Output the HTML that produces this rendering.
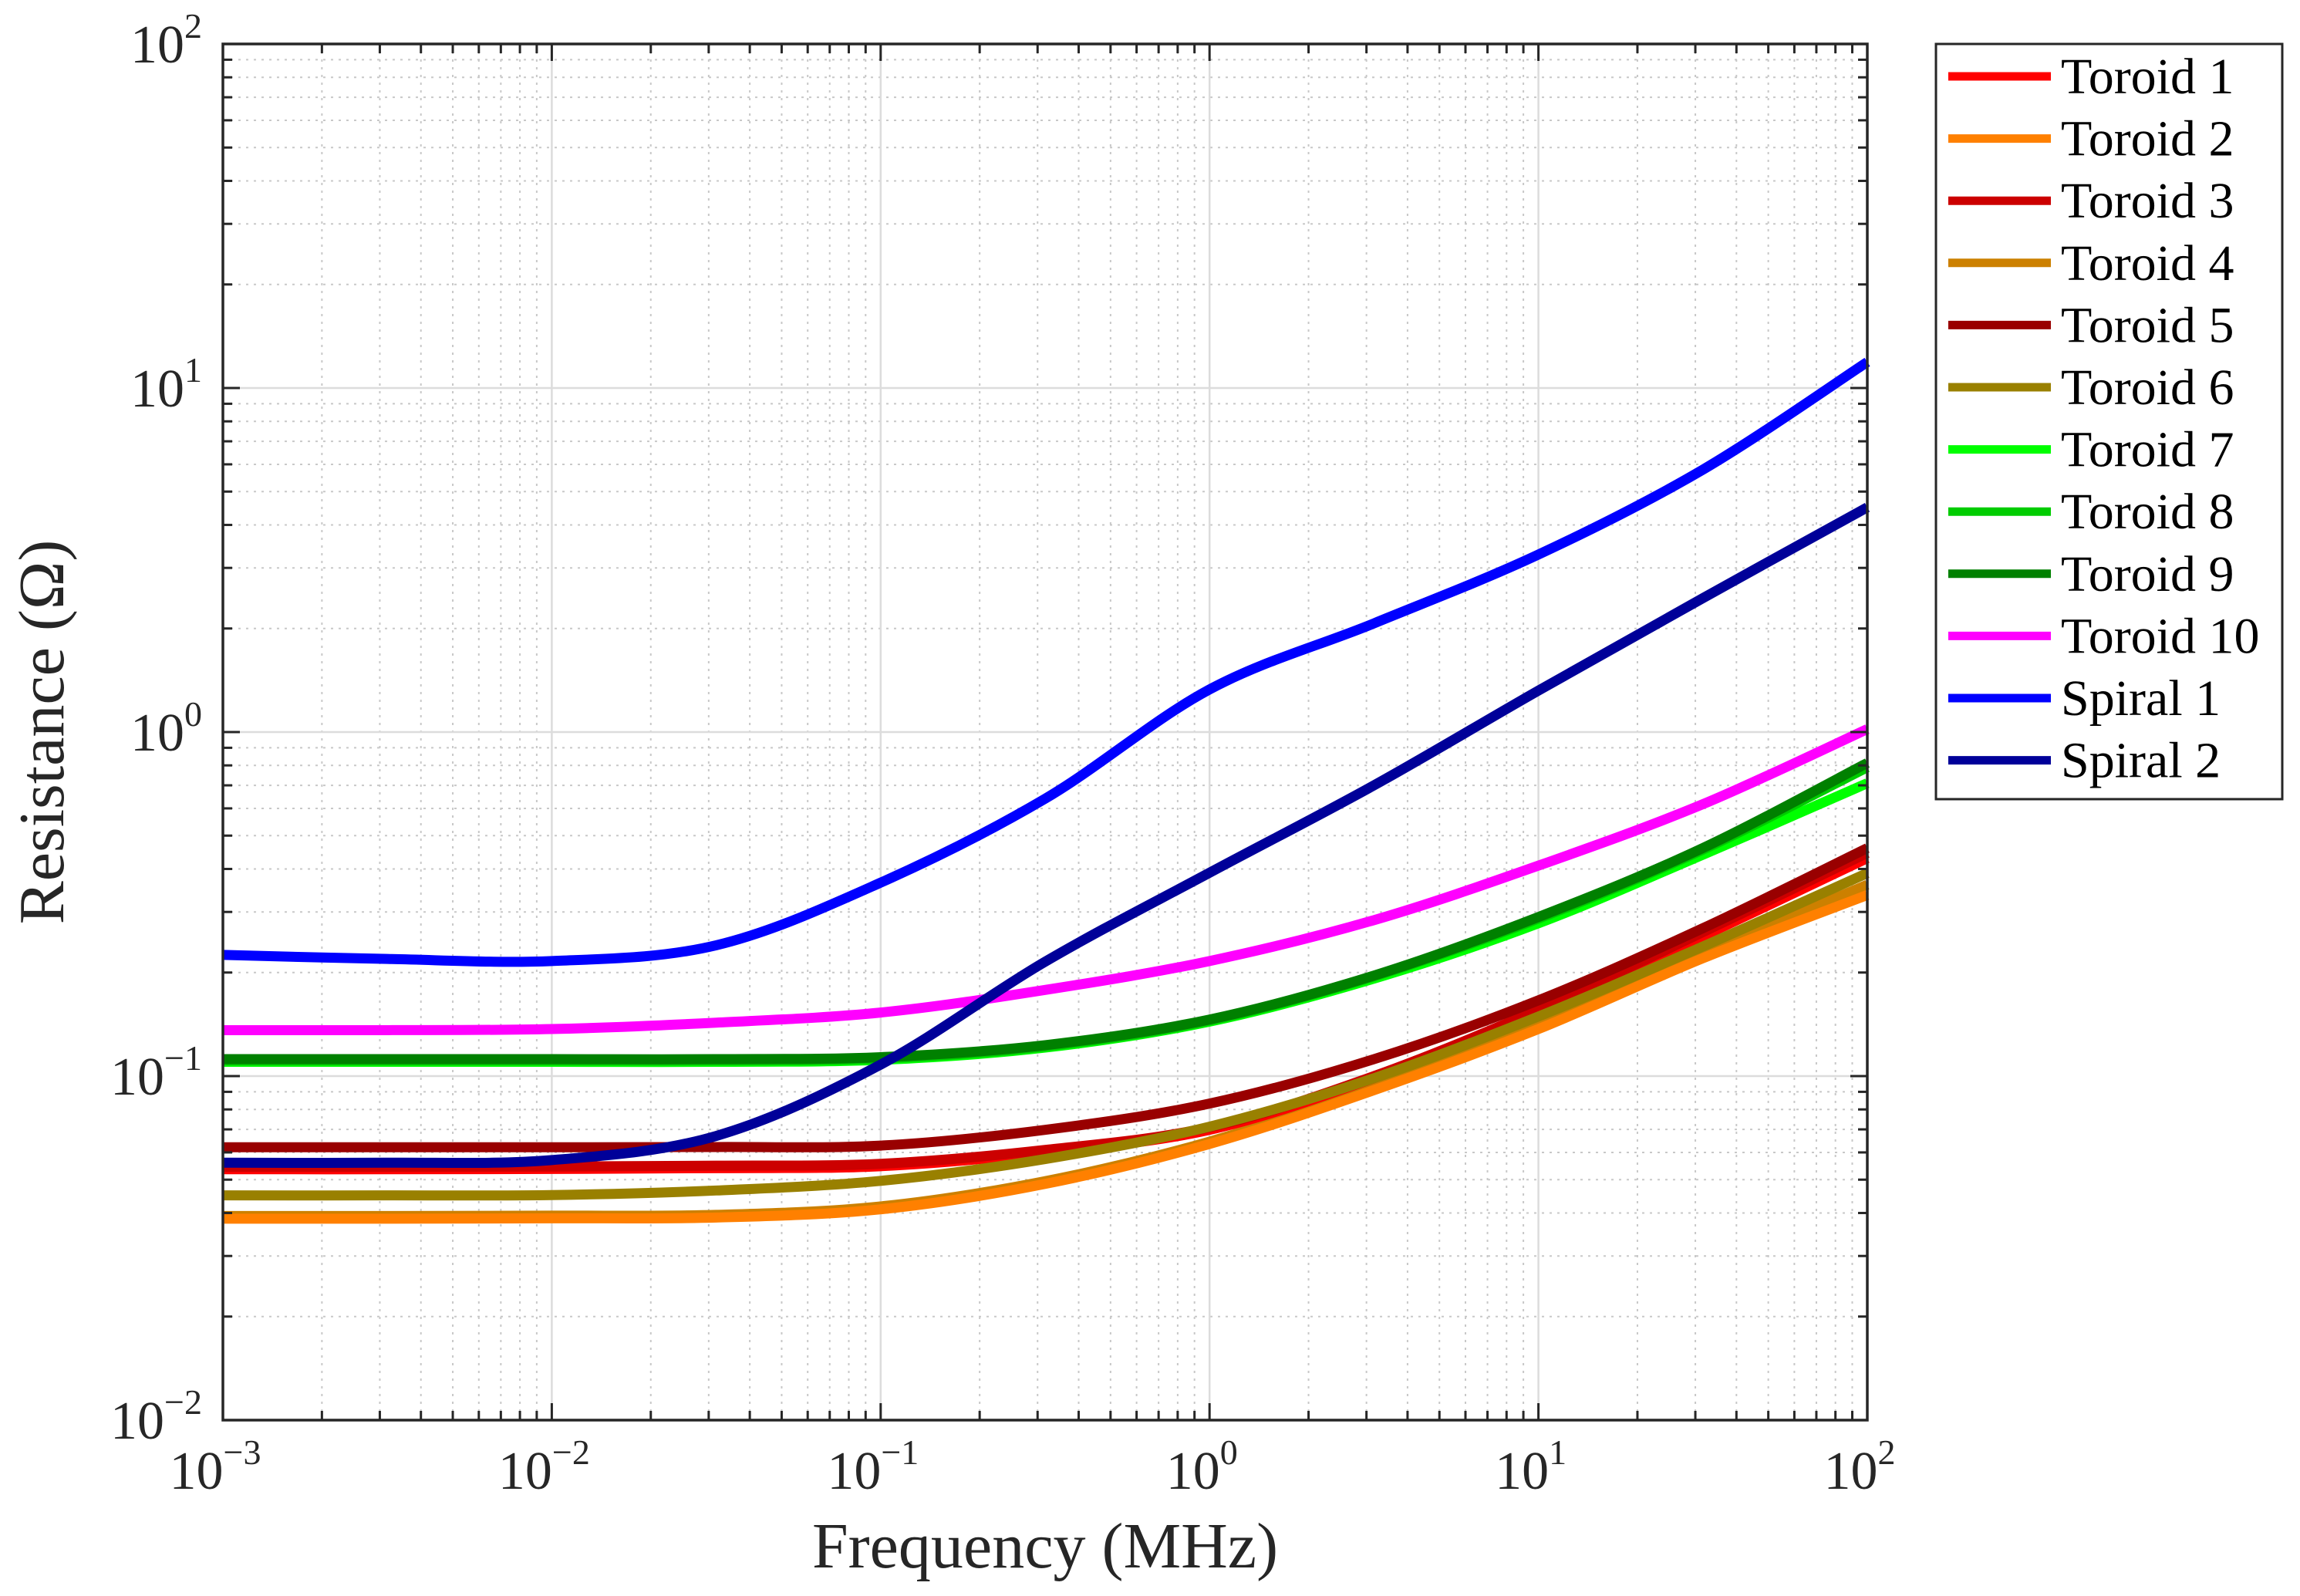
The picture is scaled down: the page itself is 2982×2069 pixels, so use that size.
<!DOCTYPE html>
<html><head><meta charset="utf-8"><style>
html,body{margin:0;padding:0;background:#fff;}
svg{display:block;font-family:"Liberation Serif","DejaVu Serif",serif;}
</style></head><body>
<svg id="chart" width="2982" height="2069" viewBox="0 0 2982 2069" xmlns="http://www.w3.org/2000/svg">
<rect width="2982" height="2069" fill="#fff"/>
<g id="grid"></g>
<g id="series"></g>
<g id="axes"></g>
<text x="1355" y="2032" font-size="84" text-anchor="middle" fill="#262626">Frequency (MHz)</text>
<text transform="translate(82,949) rotate(-90)" font-size="84" text-anchor="middle" fill="#262626">Resistance (Ω)</text>
<g id="legend"></g>
</svg>
<script>
const freqLog = [-3,-2.5,-2,-1.5,-1,-0.5,0,0.5,1,1.5,2];
const xTicks = [-3,-2,-1,0,1,2];
const yTicks = [-2,-1,0,1,2];
const seriesNames = ["Toroid 1","Toroid 2","Toroid 3","Toroid 4","Toroid 5","Toroid 6","Toroid 7","Toroid 8","Toroid 9","Toroid 10","Spiral 1","Spiral 2"];
const seriesColors = ["#ff0000","#ff8000","#cc0000","#cc8000","#990000","#998000","#00ff00","#00cc00","#008000","#ff00ff","#0000ff","#000099"];
const toroid1 = [0.0536,0.0536,0.0537,0.0540,0.0547,0.060,0.0698,0.0986,0.153,0.255,0.43];
const toroid2 = [0.0385,0.0385,0.0386,0.0388,0.041,0.0486,0.0635,0.091,0.137,0.220,0.336];
const toroid3 = [0.0545,0.0545,0.0546,0.0549,0.0556,0.061,0.071,0.100,0.156,0.262,0.445];
const toroid4 = [0.0392,0.0392,0.0393,0.0395,0.0418,0.0495,0.0645,0.093,0.140,0.226,0.36];
const toroid5 = [0.0621,0.0621,0.0621,0.0622,0.0628,0.0698,0.0832,0.112,0.166,0.269,0.46];
const toroid6 = [0.045,0.045,0.0451,0.0465,0.0496,0.0574,0.0713,0.0986,0.149,0.238,0.389];
const toroid7 = [0.110,0.110,0.110,0.110,0.1115,0.121,0.144,0.192,0.278,0.44,0.71];
const toroid8 = [0.111,0.111,0.111,0.111,0.1125,0.122,0.145,0.195,0.287,0.455,0.79];
const toroid9 = [0.112,0.112,0.112,0.112,0.1135,0.123,0.146,0.196,0.290,0.460,0.813];
const toroid10 = [0.136,0.136,0.137,0.143,0.153,0.178,0.216,0.284,0.409,0.617,1.02];
const spiral1 = [0.225,0.219,0.216,0.24,0.365,0.64,1.33,2.07,3.28,5.79,11.9];
const spiral2 = [0.056,0.056,0.057,0.067,0.108,0.215,0.39,0.70,1.32,2.45,4.5];
const allSeries = [toroid1,toroid2,toroid3,toroid4,toroid5,toroid6,toroid7,toroid8,toroid9,toroid10,spiral1,spiral2];

const L=289,R=2421,T=57,B=1841;
const xs = lg => L + (lg - (-3)) / 5 * (R - L);
const ys = v => B - (Math.log10(v) - (-2)) / 4 * (B - T);
const NS="http://www.w3.org/2000/svg";
function mk(tag, attrs, parent){const e=document.createElementNS(NS,tag);for(const k in attrs)e.setAttribute(k,attrs[k]);parent.appendChild(e);return e;}
const grid=document.getElementById('grid'), axes=document.getElementById('axes'), sg=document.getElementById('series'), lgd=document.getElementById('legend');

for(let d=-3; d<2; d++){
  for(let m=2;m<=9;m++){
    const x=xs(d+Math.log10(m));
    const l=mk('line',{x1:x,x2:x,y1:T,y2:B,stroke:'#c8c8c8','stroke-width':2,'stroke-dasharray':'3 7'},grid);
    
    
  }
}
for(let d=-2; d<2; d++){
  for(let m=2;m<=9;m++){
    const y=B-(d+Math.log10(m)+2)/4*(B-T);
    const l=mk('line',{x1:L,x2:R,y1:y,y2:y,stroke:'#c8c8c8','stroke-width':2,'stroke-dasharray':'3 7'},grid);
    
    
  }
}
xTicks.forEach(t=>{const x=xs(t);const l=mk('line',{x1:x,x2:x,y1:T,y2:B,stroke:'#dcdcdc','stroke-width':2.5},grid);
  
  });
yTicks.forEach(t=>{const y=ys(Math.pow(10,t));const l=mk('line',{x1:L,x2:R,y1:y,y2:y,stroke:'#dcdcdc','stroke-width':2.5},grid);
  
  });

function pathFor(vals){
  const p=vals.map((v,i)=>[xs(freqLog[i]),ys(v)]);
  let d=`M${p[0][0]},${p[0][1]}`;
  for(let i=0;i<p.length-1;i++){
    const p0=p[Math.max(0,i-1)],p1=p[i],p2=p[i+1],p3=p[Math.min(p.length-1,i+2)];
    const c1=[p1[0]+(p2[0]-p0[0])/6,p1[1]+(p2[1]-p0[1])/6];
    const c2=[p2[0]-(p3[0]-p1[0])/6,p2[1]-(p3[1]-p1[1])/6];
    d+=` C${c1[0]},${c1[1]} ${c2[0]},${c2[1]} ${p2[0]},${p2[1]}`;
  }
  return d;
}
const order=[3,1,0,2,5,4,6,7,8,9,10,11];
order.forEach(i=>{
  const p=mk('path',{d:pathFor(allSeries[i]),fill:'none',stroke:seriesColors[i],'stroke-width':13,'stroke-linejoin':'round'},sg);
  
  
});

const box=mk('rect',{x:L,y:T,width:R-L,height:B-T,fill:'none',stroke:'#262626','stroke-width':3.5},axes);


for(let d=-3; d<2; d++){for(let m=2;m<=9;m++){const x=xs(d+Math.log10(m));
  mk('line',{x1:x,x2:x,y1:B,y2:B-12,stroke:'#262626','stroke-width':3},axes);
  mk('line',{x1:x,x2:x,y1:T,y2:T+12,stroke:'#262626','stroke-width':3},axes);}}
for(let d=-2; d<2; d++){for(let m=2;m<=9;m++){const y=B-(d+Math.log10(m)+2)/4*(B-T);
  mk('line',{x1:L,x2:L+12,y1:y,y2:y,stroke:'#262626','stroke-width':3},axes);
  mk('line',{x1:R,x2:R-12,y1:y,y2:y,stroke:'#262626','stroke-width':3},axes);}}
xTicks.forEach(t=>{const x=xs(t);
  mk('line',{x1:x,x2:x,y1:B,y2:B-22,stroke:'#262626','stroke-width':3},axes);
  mk('line',{x1:x,x2:x,y1:T,y2:T+22,stroke:'#262626','stroke-width':3},axes);
  const tx=mk('text',{x:x-10,y:1930,'font-size':70,'text-anchor':'middle',fill:'#262626'},axes);
  
  
  tx.innerHTML=`10<tspan font-size="46" dy="-32">${t<0?'−'+(-t):t}</tspan>`;
});
yTicks.forEach(t=>{const y=ys(Math.pow(10,t));
  mk('line',{x1:L,x2:L+22,y1:y,y2:y,stroke:'#262626','stroke-width':3},axes);
  mk('line',{x1:R,x2:R-22,y1:y,y2:y,stroke:'#262626','stroke-width':3},axes);
  const tx=mk('text',{x:262,y:y+24,'font-size':70,'text-anchor':'end',fill:'#262626'},axes);
  
  
  tx.innerHTML=`10<tspan font-size="46" dy="-32">${t<0?'−'+(-t):t}</tspan>`;
});

const lb=mk('rect',{x:2510,y:57,width:449,height:979,fill:'#fff',stroke:'#262626','stroke-width':3},lgd);


seriesNames.forEach((n,i)=>{
  const y=99+80.6*i;
  const g=mk('g',{},lgd);
  
  
  mk('line',{x1:2526,x2:2659,y1:y,y2:y,stroke:seriesColors[i],'stroke-width':11},g);
  const tx=mk('text',{x:2672,y:y+22,'font-size':66,fill:'#000'},g);
  tx.textContent=n;
});
</script>
</body></html>
